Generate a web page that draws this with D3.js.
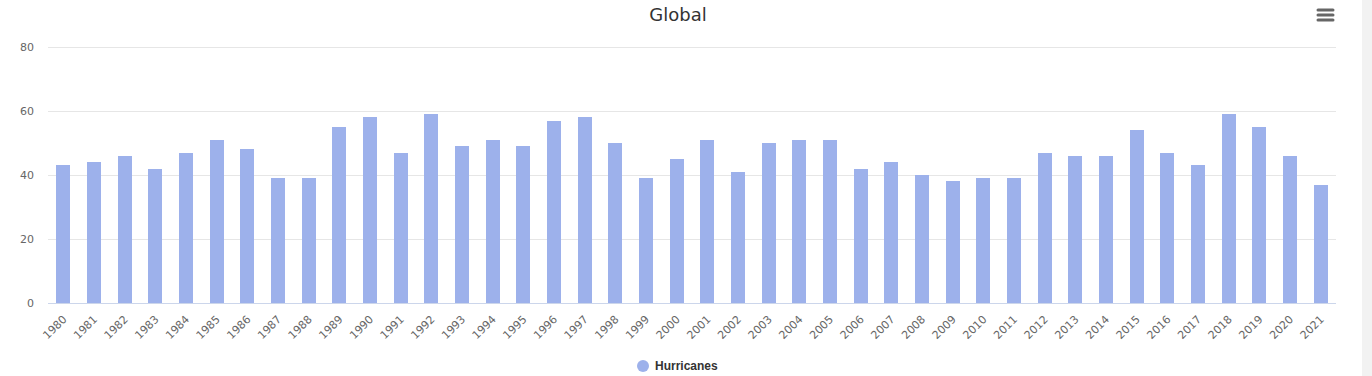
<!DOCTYPE html>
<html>
<head>
<meta charset="utf-8">
<script src="https://cdn.jsdelivr.net/npm/d3@7"></script>
<style>
  html, body { margin: 0; padding: 0; background: #fff; }
  svg { display: block; }
</style>
</head>
<body>
<svg id="chart" width="1372" height="376"></svg>
<script>
// ---- data ----
var years = ["1980","1981","1982","1983","1984","1985","1986","1987","1988","1989",
             "1990","1991","1992","1993","1994","1995","1996","1997","1998","1999",
             "2000","2001","2002","2003","2004","2005","2006","2007","2008","2009",
             "2010","2011","2012","2013","2014","2015","2016","2017","2018","2019",
             "2020","2021"];
var hurricanes = [43,44,46,42,47,51,48,39,39,55,
                  58,47,59,49,51,49,57,58,50,39,
                  45,51,41,50,51,51,42,44,40,38,
                  39,39,47,46,46,54,47,43,59,55,
                  46,37];
var yTicks = [0, 20, 40, 60, 80];

var FONT = '"DejaVu Sans", Verdana, Arial, sans-serif';
var svg = d3.select("#chart");

// scrollbar-ish strip on the right
svg.append("rect").attr("x", 1362).attr("y", 0).attr("width", 10).attr("height", 376).attr("fill", "#f2f2f2");

var margin = { left: 48, right: 1336, top: 47, bottom: 303 };

var x = d3.scaleBand().domain(years).range([margin.left, margin.right]).paddingInner(0.54).paddingOuter(0.27);
var y = d3.scaleLinear().domain([0, 80]).range([margin.bottom, margin.top]);

// grid
svg.append("g").selectAll("line").data(yTicks.filter(function(d){ return d > 0; })).enter().append("line")
    .attr("x1", margin.left).attr("x2", margin.right)
    .attr("y1", function(d){ return y(d) + 0.5; }).attr("y2", function(d){ return y(d) + 0.5; })
    .attr("stroke", "#e6e6e6").attr("stroke-width", 1);

// y labels
svg.append("g").selectAll("text").data(yTicks).enter().append("text")
    .attr("x", 34).attr("y", function(d){ return y(d) + 4; })
    .attr("text-anchor", "end")
    .attr("font-family", FONT).attr("font-size", "11px").attr("fill", "#666")
    .text(function(d){ return d; });

// bars
svg.append("g").selectAll("rect").data(hurricanes).enter().append("rect")
    .attr("x", function(d, i){ return Math.round(x(years[i])); })
    .attr("width", Math.round(x.bandwidth()))
    .attr("y", function(d){ return Math.round(y(d)); })
    .attr("height", function(d){ return margin.bottom - Math.round(y(d)); })
    .attr("fill", "#9db1eb");

// x axis line
svg.append("line").attr("x1", margin.left).attr("x2", margin.right)
    .attr("y1", margin.bottom + 0.5).attr("y2", margin.bottom + 0.5)
    .attr("stroke", "#ccd6eb").attr("stroke-width", 1);

// x labels, rotated -45
svg.append("g").selectAll("text").data(years).enter().append("text")
    .attr("transform", function(d){
        var cx = x(d) + x.bandwidth() / 2 + 4;
        return "translate(" + cx + "," + 320 + ") rotate(-45)";
    })
    .attr("text-anchor", "end")
    .attr("font-family", FONT).attr("font-size", "11px").attr("fill", "#666")
    .text(function(d){ return d; });

// title
svg.append("text").attr("x", 678).attr("y", 21).attr("text-anchor", "middle")
    .attr("font-family", FONT).attr("font-size", "18px").attr("fill", "#333")
    .text("Global");

// menu icon
[10, 15, 20].forEach(function(yy){
    svg.append("line").attr("x1", 1318).attr("x2", 1333).attr("y1", yy).attr("y2", yy)
        .attr("stroke", "#666").attr("stroke-width", 3).attr("stroke-linecap", "round");
});

// legend
var legend = svg.append("g");
legend.append("circle").attr("cx", 643).attr("cy", 366).attr("r", 6).attr("fill", "#9db1eb");
legend.append("text").attr("x", 655).attr("y", 370)
    .attr("font-family", '"Liberation Sans", Arial, sans-serif').attr("font-size", "12px").attr("font-weight", "bold").attr("fill", "#333")
    .text("Hurricanes");
</script>
</body>
</html>
